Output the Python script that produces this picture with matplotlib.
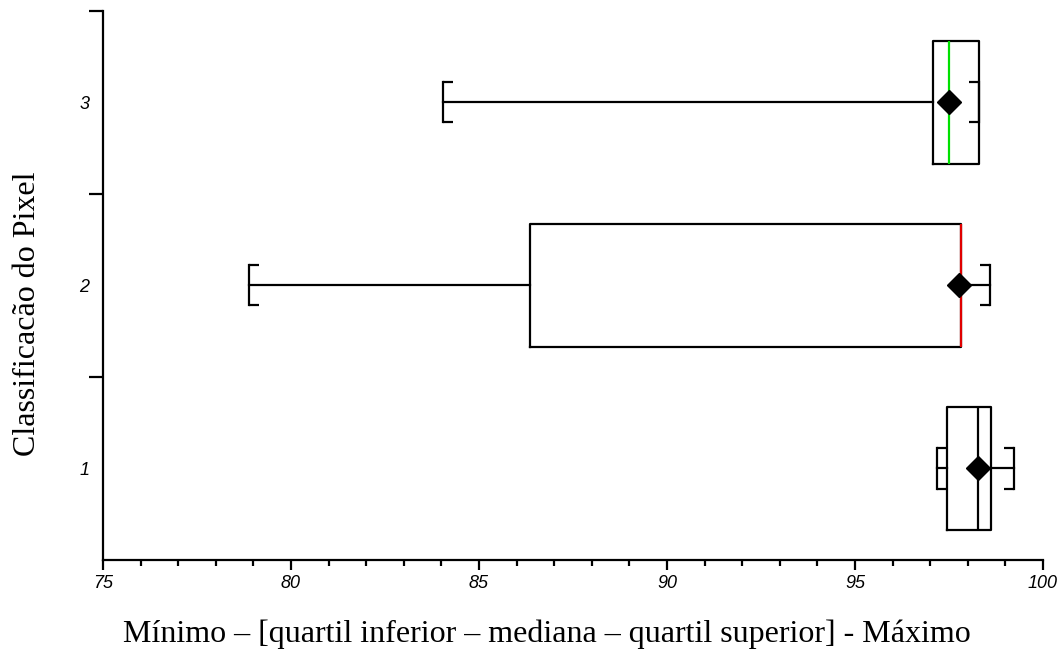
import numpy as np
import matplotlib.pyplot as plt
from matplotlib.ticker import MultipleLocator, FixedLocator, NullFormatter

# box statistics per pixel class
classes = [1, 2, 3]
q1 = [97.45, 86.36, 97.07]
med = [98.27, 97.82, 97.50]
q3 = [98.62, 97.82, 98.30]
whislo = [97.18, 78.88, 84.05]
whishi = [99.23, 98.59, 98.30]
means = [98.27, 97.78, 97.50]
median_colors = ['black', '#e00000', '#00e000']

stats = []
for i in range(len(classes)):
    stats.append(dict(med=med[i], q1=q1[i], q3=q3[i], whislo=whislo[i],
                      whishi=whishi[i], mean=means[i], fliers=[],
                      label=str(classes[i])))

fig = plt.figure(figsize=(10.62, 6.54), dpi=100)
ax = fig.add_axes([0.097, 0.1437, 0.885, 0.84])

lw = 1.6
bp = ax.bxp(stats, positions=classes, orientation='horizontal', widths=0.67,
            showmeans=True, capwidths=0.22,
            boxprops=dict(color='black', linewidth=lw),
            whiskerprops=dict(color='black', linewidth=lw),
            capprops=dict(color='black', linewidth=lw),
            medianprops=dict(color='black', linewidth=lw),
            meanprops=dict(marker='D', markerfacecolor='black', markeredgecolor='black',
                           markersize=12))
for line, c in zip(bp['medians'], median_colors):
    line.set_color(c)
    line.set_zorder(3)
for m in bp['means']:
    m.set_zorder(4)

# bracket stubs on the caps
stub = 0.27
for y, lo, hi in zip(classes, whislo, whishi):
    for dy in (-0.11, 0.11):
        ax.plot([lo, lo + stub], [y + dy, y + dy], color='black', lw=lw, solid_capstyle='butt')
        ax.plot([hi - stub, hi], [y + dy, y + dy], color='black', lw=lw, solid_capstyle='butt')

ax.set_xlim(75, 100)
ax.set_ylim(0.5, 3.5)
ax.spines['top'].set_visible(False)
ax.spines['right'].set_visible(False)
ax.spines['left'].set_linewidth(1.6)
ax.spines['bottom'].set_linewidth(1.6)

ax.xaxis.set_major_locator(MultipleLocator(5))
ax.xaxis.set_minor_locator(MultipleLocator(1))
ax.tick_params(axis='x', which='major', length=7, width=1.6, direction='out')
ax.tick_params(axis='x', which='minor', length=4.5, width=1.6, direction='out')

# y: tick marks between classes, labels at class centres
ax.yaxis.set_major_locator(FixedLocator([1.5, 2.5, 3.5]))
ax.yaxis.set_major_formatter(NullFormatter())
ax.yaxis.set_minor_locator(FixedLocator(classes))
ax.set_yticklabels([str(c) for c in classes], minor=True)
ax.tick_params(axis='y', which='major', length=10, width=1.6, direction='out')
ax.tick_params(axis='y', which='minor', length=0, pad=10)

for lab in ax.get_xticklabels() + ax.get_yticklabels(minor=True):
    lab.set_fontfamily('Liberation Sans')
    lab.set_fontstyle('italic')
    lab.set_fontsize(13)

ax.set_xlabel('Mínimo – [quartil inferior – mediana – quartil superior] - Máximo',
              fontfamily='Liberation Serif', fontsize=23)
ax.set_ylabel('Classificacão do Pixel', fontfamily='Liberation Serif', fontsize=23)
ax.xaxis.set_label_coords(0.472, -0.108)
ax.yaxis.set_label_coords(-0.065, 0.449)

fig.savefig('out.png', dpi=100)
